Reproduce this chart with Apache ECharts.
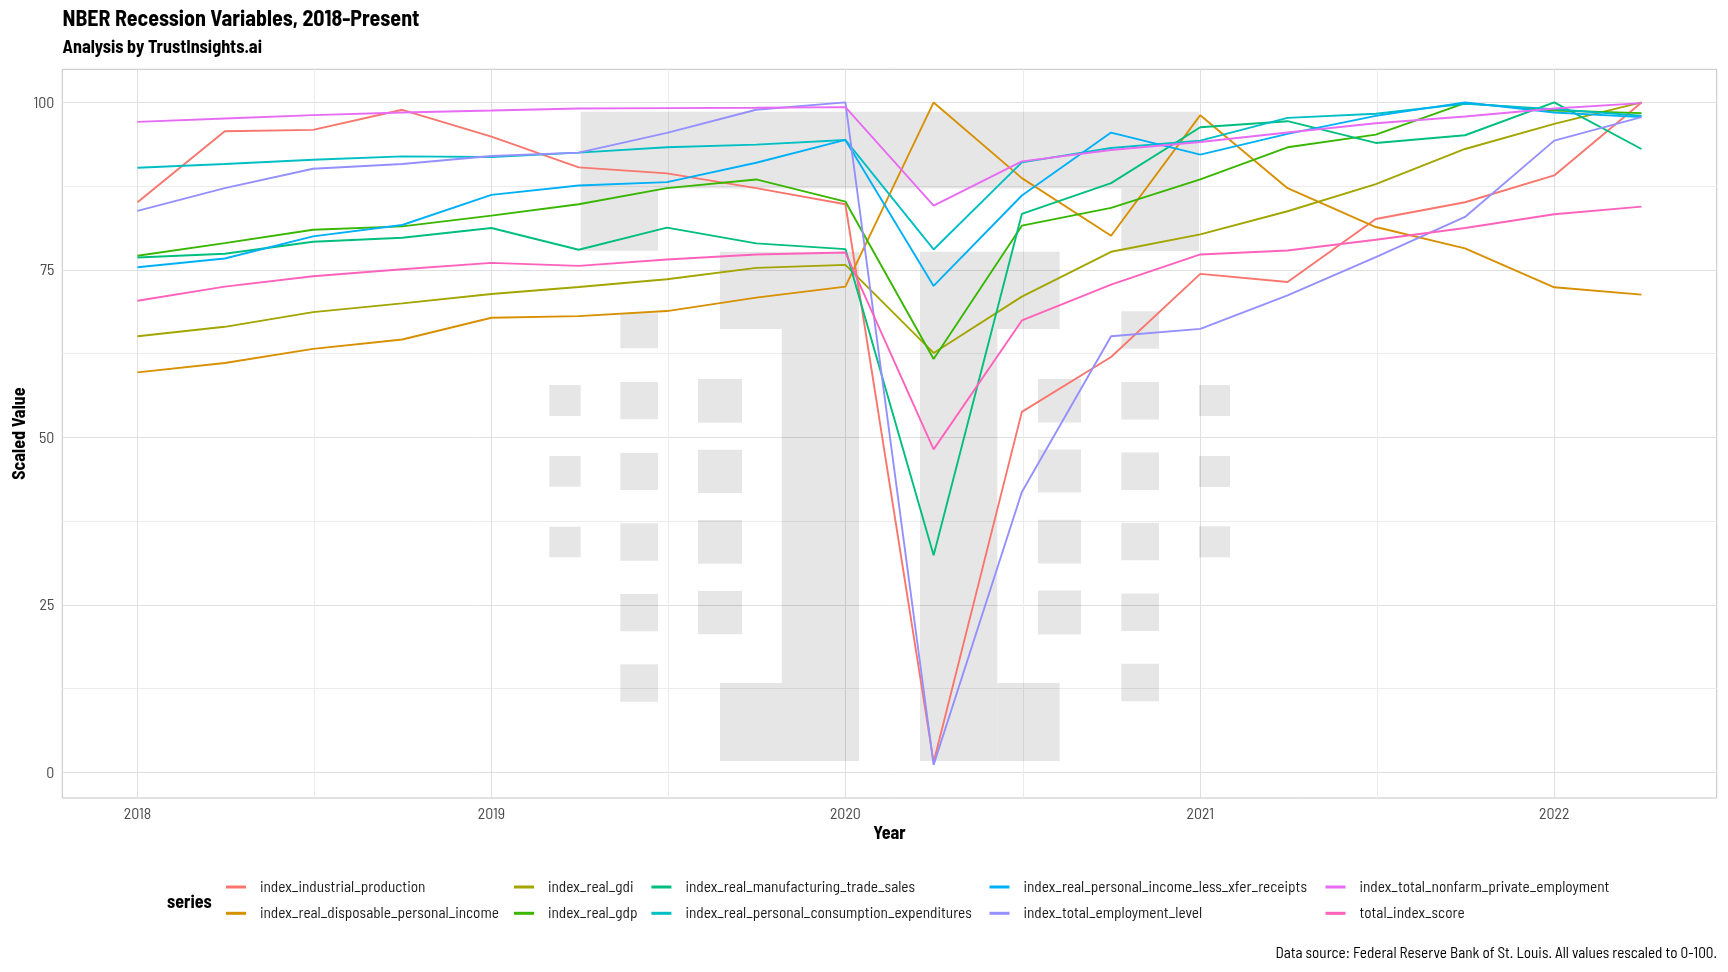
<!DOCTYPE html>
<html><head><meta charset="utf-8">
<script src="https://cdn.jsdelivr.net/npm/echarts@6/dist/echarts.min.js"></script>
<style>html,body{margin:0;padding:0;background:#fff}#c{width:1728px;height:972px}</style>
</head><body><div id="c"></div>
<script>
// ---------- DATA ----------
const dates = ["2018-01-01","2018-04-01","2018-07-01","2018-10-01","2019-01-01","2019-04-01","2019-07-01","2019-10-01",
  "2020-01-01","2020-04-01","2020-07-01","2020-10-01","2021-01-01","2021-04-01","2021-07-01","2021-10-01","2022-01-01","2022-04-01"];
const industrialProduction = [85.1,95.7,95.9,98.9,94.9,90.3,89.4,87.2,84.8,1.5,53.8,62.0,74.4,73.2,82.6,85.1,89.1,100];
const realDisposablePersonalIncome = [59.7,61.1,63.2,64.6,67.85,68.1,68.85,70.85,72.5,100,88.7,80.1,98.1,87.2,81.4,78.2,72.4,71.3];
const realGdi = [65.1,66.5,68.7,70.0,71.4,72.45,73.6,75.3,75.75,62.6,71.0,77.7,80.3,83.75,87.8,93.05,96.8,100];
const realGdp = [77.1,79.0,81.0,81.5,83.1,84.8,87.2,88.5,85.2,61.7,81.6,84.25,88.5,93.3,95.2,99.9,98.8,98.4];
const realManufacturingTradeSales = [76.85,77.4,79.2,79.8,81.25,78.0,81.3,78.95,78.1,32.4,83.35,87.95,96.3,97.2,93.95,95.1,100,93.05];
const realPersonalConsumptionExpenditures = [90.25,90.8,91.45,91.95,91.85,92.5,93.3,93.7,94.4,78.05,91.05,93.2,94.3,97.7,98.3,99.8,99.0,98.0];
const realPersonalIncomeLessXferReceipts = [75.4,76.7,80.0,81.7,86.2,87.6,88.1,91.0,94.4,72.6,86.1,95.5,92.2,95.3,98.0,100,98.5,97.8];
const totalEmploymentLevel = [83.8,87.2,90.1,90.8,92.0,92.5,95.45,98.9,100,1.1,41.85,65.1,66.2,71.2,76.9,82.9,94.3,97.8];
const totalNonfarmPrivateEmployment = [97.1,97.6,98.1,98.5,98.8,99.1,99.15,99.2,99.3,84.6,91.2,92.9,94.1,95.5,96.9,97.9,99.1,99.9];
const totalIndexScore = [70.4,72.5,74.05,75.1,76.05,75.6,76.55,77.3,77.6,48.2,67.45,72.8,77.3,77.9,79.5,81.25,83.3,84.45];

const seriesNames = ["index_industrial_production","index_real_disposable_personal_income","index_real_gdi","index_real_gdp",
  "index_real_manufacturing_trade_sales","index_real_personal_consumption_expenditures","index_real_personal_income_less_xfer_receipts",
  "index_total_employment_level","index_total_nonfarm_private_employment","total_index_score"];
const seriesValues = [industrialProduction,realDisposablePersonalIncome,realGdi,realGdp,realManufacturingTradeSales,
  realPersonalConsumptionExpenditures,realPersonalIncomeLessXferReceipts,totalEmploymentLevel,totalNonfarmPrivateEmployment,totalIndexScore];
const xMajorYears = [2018,2019,2020,2021,2022];
const yMajorTicks = [0,25,50,75,100];

const titleText = "NBER Recession Variables, 2018-Present";
const subtitleText = "Analysis by TrustInsights.ai";
const captionText = "Data source: Federal Reserve Bank of St. Louis. All values rescaled to 0-100.";

// ---------- STYLE ----------
const colors = ["#F8766D","#D89000","#A3A500","#39B600","#00BF7D","#00BFC4","#00B0F6","#9590FF","#E76BF3","#FF62BC"];

const mctx = document.createElement('canvas').getContext('2d');
function fontAvailable(name){
  const s='index_real_disposable 0123 WMiy';
  mctx.font='40px monospace'; const w1=mctx.measureText(s).width;
  mctx.font='40px serif'; const w2=mctx.measureText(s).width;
  mctx.font='40px "'+name+'", monospace'; const a=mctx.measureText(s).width;
  mctx.font='40px "'+name+'", serif'; const b=mctx.measureText(s).width;
  return a!==w1 || b!==w2;
}
const cand = ['Barlow Semi Condensed','Barlow Condensed','Roboto Condensed','Roboto'];
const FAM = cand.filter(fontAvailable)[0] || 'Roboto';
const FONT = "'" + FAM + "', Roboto, sans-serif";
function fit(text, weight, width){
  mctx.font = weight + ' 100px ' + FONT;
  return 100 * width / mctx.measureText(text).width;
}
const S_TITLE = fit(titleText, 'bold', 357);
const S_SUB = fit(subtitleText, 'bold', 199.5);
const S_LEG = fit('index_real_disposable_personal_income', 'normal', 239);
const S_CAP = fit(captionText, 'normal', 442);
const S_TICK = fit('2018', 'normal', 27.6);
const S_YEAR = Math.min(fit('Year', 'bold', 33.6), 18);
const S_SER = Math.min(fit('series', 'bold', 44.7), 18);

// ---------- SCALES ----------
const toMs = d => Date.parse(d + 'T00:00:00Z');
const xs = dates.map(toMs);
const t0 = Math.min(...xs), t1 = Math.max(...xs);
const xMin = t0 - 0.05*(t1-t0), xMax = t1 + 0.05*(t1-t0);
const allVals = seriesValues.flat();
const v0 = Math.min(...allVals), v1 = Math.max(...allVals);
const yMin = v0 - 0.05*(v1-v0), yMax = v1 + 0.05*(v1-v0);

const xMajor = xMajorYears.map(y => Date.UTC(y,0,1));
const xTicks = [];
xMajor.forEach((m,i)=>{ xTicks.push(m); if (i < xMajor.length-1) xTicks.push((m + xMajor[i+1])/2); });
const yTicks = [];
yMajorTicks.forEach((m,i)=>{ yTicks.push(m); if (i < yMajorTicks.length-1) yTicks.push((m + yMajorTicks[i+1])/2); });

// ---------- WATERMARK (decorative logo, pixel layout) ----------
const wm = [
  [580.7,111.7,618.3,76.7],[580.7,188.4,77.3,62.3],[1121.3,188.4,77.7,62.6],
  [720,251.7,139,77.3],[781.7,329,77.3,354],[720,683,139,78],
  [920,251.7,77.3,509.3],[997.3,251.7,62.4,77.3],[997.3,683,62.4,78],
  [620.3,313.3,37.7,35],[1121.3,311.2,37.7,37.5],
  [549.3,385,31.4,31],[549.3,456,31.4,30.7],[549.3,526.7,31.4,30.6],
  [620.3,382,37.7,37.3],[620.3,453,37.7,37],[620.3,523.3,37.7,37.4],[620.3,594,37.7,37.3],[620.3,664.3,37.7,37.4],
  [698,379,44,43.7],[698,449.7,44,43.3],[698,520,44,43.7],[698,591,44,43.3],
  [1038,379,43,43.4],[1038,449.6,43,43],[1038,519.8,43,43.6],[1038,590.5,43,44],
  [1121.3,382,37.7,37.4],[1121.3,452.6,37.7,37.4],[1121.3,522.8,37.7,37.4],[1121.3,593.5,37.7,37.4],[1121.3,663.8,37.7,37.4],
  [1199,385,31,31],[1199,456,31,31],[1199,526.3,31,31]
];
const graphics = wm.map(r=>({type:'rect', z:1, silent:true, shape:{x:r[0],y:r[1],width:r[2],height:r[3]}, style:{fill:'rgba(0,0,0,0.098)'}}));

// ---------- LEGENDS (ggplot column-major, 2 rows) ----------
const legendLefts = [226, 514, 651.4, 989.5, 1325.5];
const legends = legendLefts.map((lx,ci)=>({
  orient:'vertical', left:lx, top:879, padding:0, itemWidth:20, itemHeight:3, itemGap:10.3, icon:'rect',
  selectedMode:false, data: seriesNames.slice(ci*2, ci*2+2),
  textStyle:{fontFamily:FONT, fontSize:S_LEG, color:'#1a1a1a', lineHeight:16, padding:[0,0,0,9]}
}));

const series = seriesNames.map((n,i)=>({
  name:n, type:'line', data: xs.map((x,j)=>[x, seriesValues[i][j]]),
  showSymbol:false, symbol:'none', lineStyle:{width:1.9, color:colors[i]}, itemStyle:{color:colors[i]},
  emphasis:{disabled:true}, z:2
}));

const chart = echarts.init(document.getElementById('c'), null, {renderer:'canvas'});
chart.setOption({
  animation:false,
  color: colors,
  title: [
    {text:titleText, left:62.5, top:18.7 - S_TITLE/2, padding:0, textStyle:{fontFamily:FONT, fontSize:S_TITLE, fontWeight:'bold', color:'#000'}},
    {text:subtitleText, left:62.5, top:47.4 - S_SUB/2, padding:0, textStyle:{fontFamily:FONT, fontSize:S_SUB, fontWeight:'bold', color:'#000'}},
    {text:'series', left:167, top:893, padding:0, textStyle:{fontFamily:FONT, fontSize:S_SER, fontWeight:'bold', color:'#000'}},
    {text:captionText, right:11, top:945, padding:0, textStyle:{fontFamily:FONT, fontSize:S_CAP, fontWeight:'normal', color:'#000'}}
  ],
  legend: legends,
  grid: {left:62.3, right:11.3, top:69.3, bottom:174, show:true, borderColor:'#c4c4c4', borderWidth:1,
         backgroundColor:'transparent', containLabel:false, outerBoundsMode:'none'},
  xAxis: {
    type:'value', min:xMin, max:xMax,
    name:'Year', nameLocation:'middle', nameGap:26, nameMoveOverlap:false,
    nameTextStyle:{fontFamily:FONT, fontSize:S_YEAR, fontWeight:'bold', color:'#000', verticalAlign:'top'},
    axisLine:{show:false}, axisTick:{show:false, customValues:xTicks},
    axisLabel:{customValues:xMajor, formatter:v=>String(new Date(v).getUTCFullYear()), margin:8, fontFamily:FONT, fontSize:S_TICK, color:'#4d4d4d'},
    splitLine:{show:true, lineStyle:{color:['#e0e0e0','#ececec'], width:1}}
  },
  yAxis: {
    type:'value', min:yMin, max:yMax,
    name:'Scaled Value', nameLocation:'middle', nameGap:34.6, nameRotate:90, nameMoveOverlap:false,
    nameTextStyle:{fontFamily:FONT, fontSize:S_YEAR, fontWeight:'bold', color:'#000'},
    axisLine:{show:false}, axisTick:{show:false, customValues:yTicks},
    axisLabel:{customValues:yMajorTicks, margin:8, fontFamily:FONT, fontSize:S_TICK, color:'#4d4d4d'},
    splitLine:{show:true, lineStyle:{color:['#e0e0e0','#ececec'], width:1}}
  },
  graphic: graphics,
  series: series
});
</script>
</body></html>
